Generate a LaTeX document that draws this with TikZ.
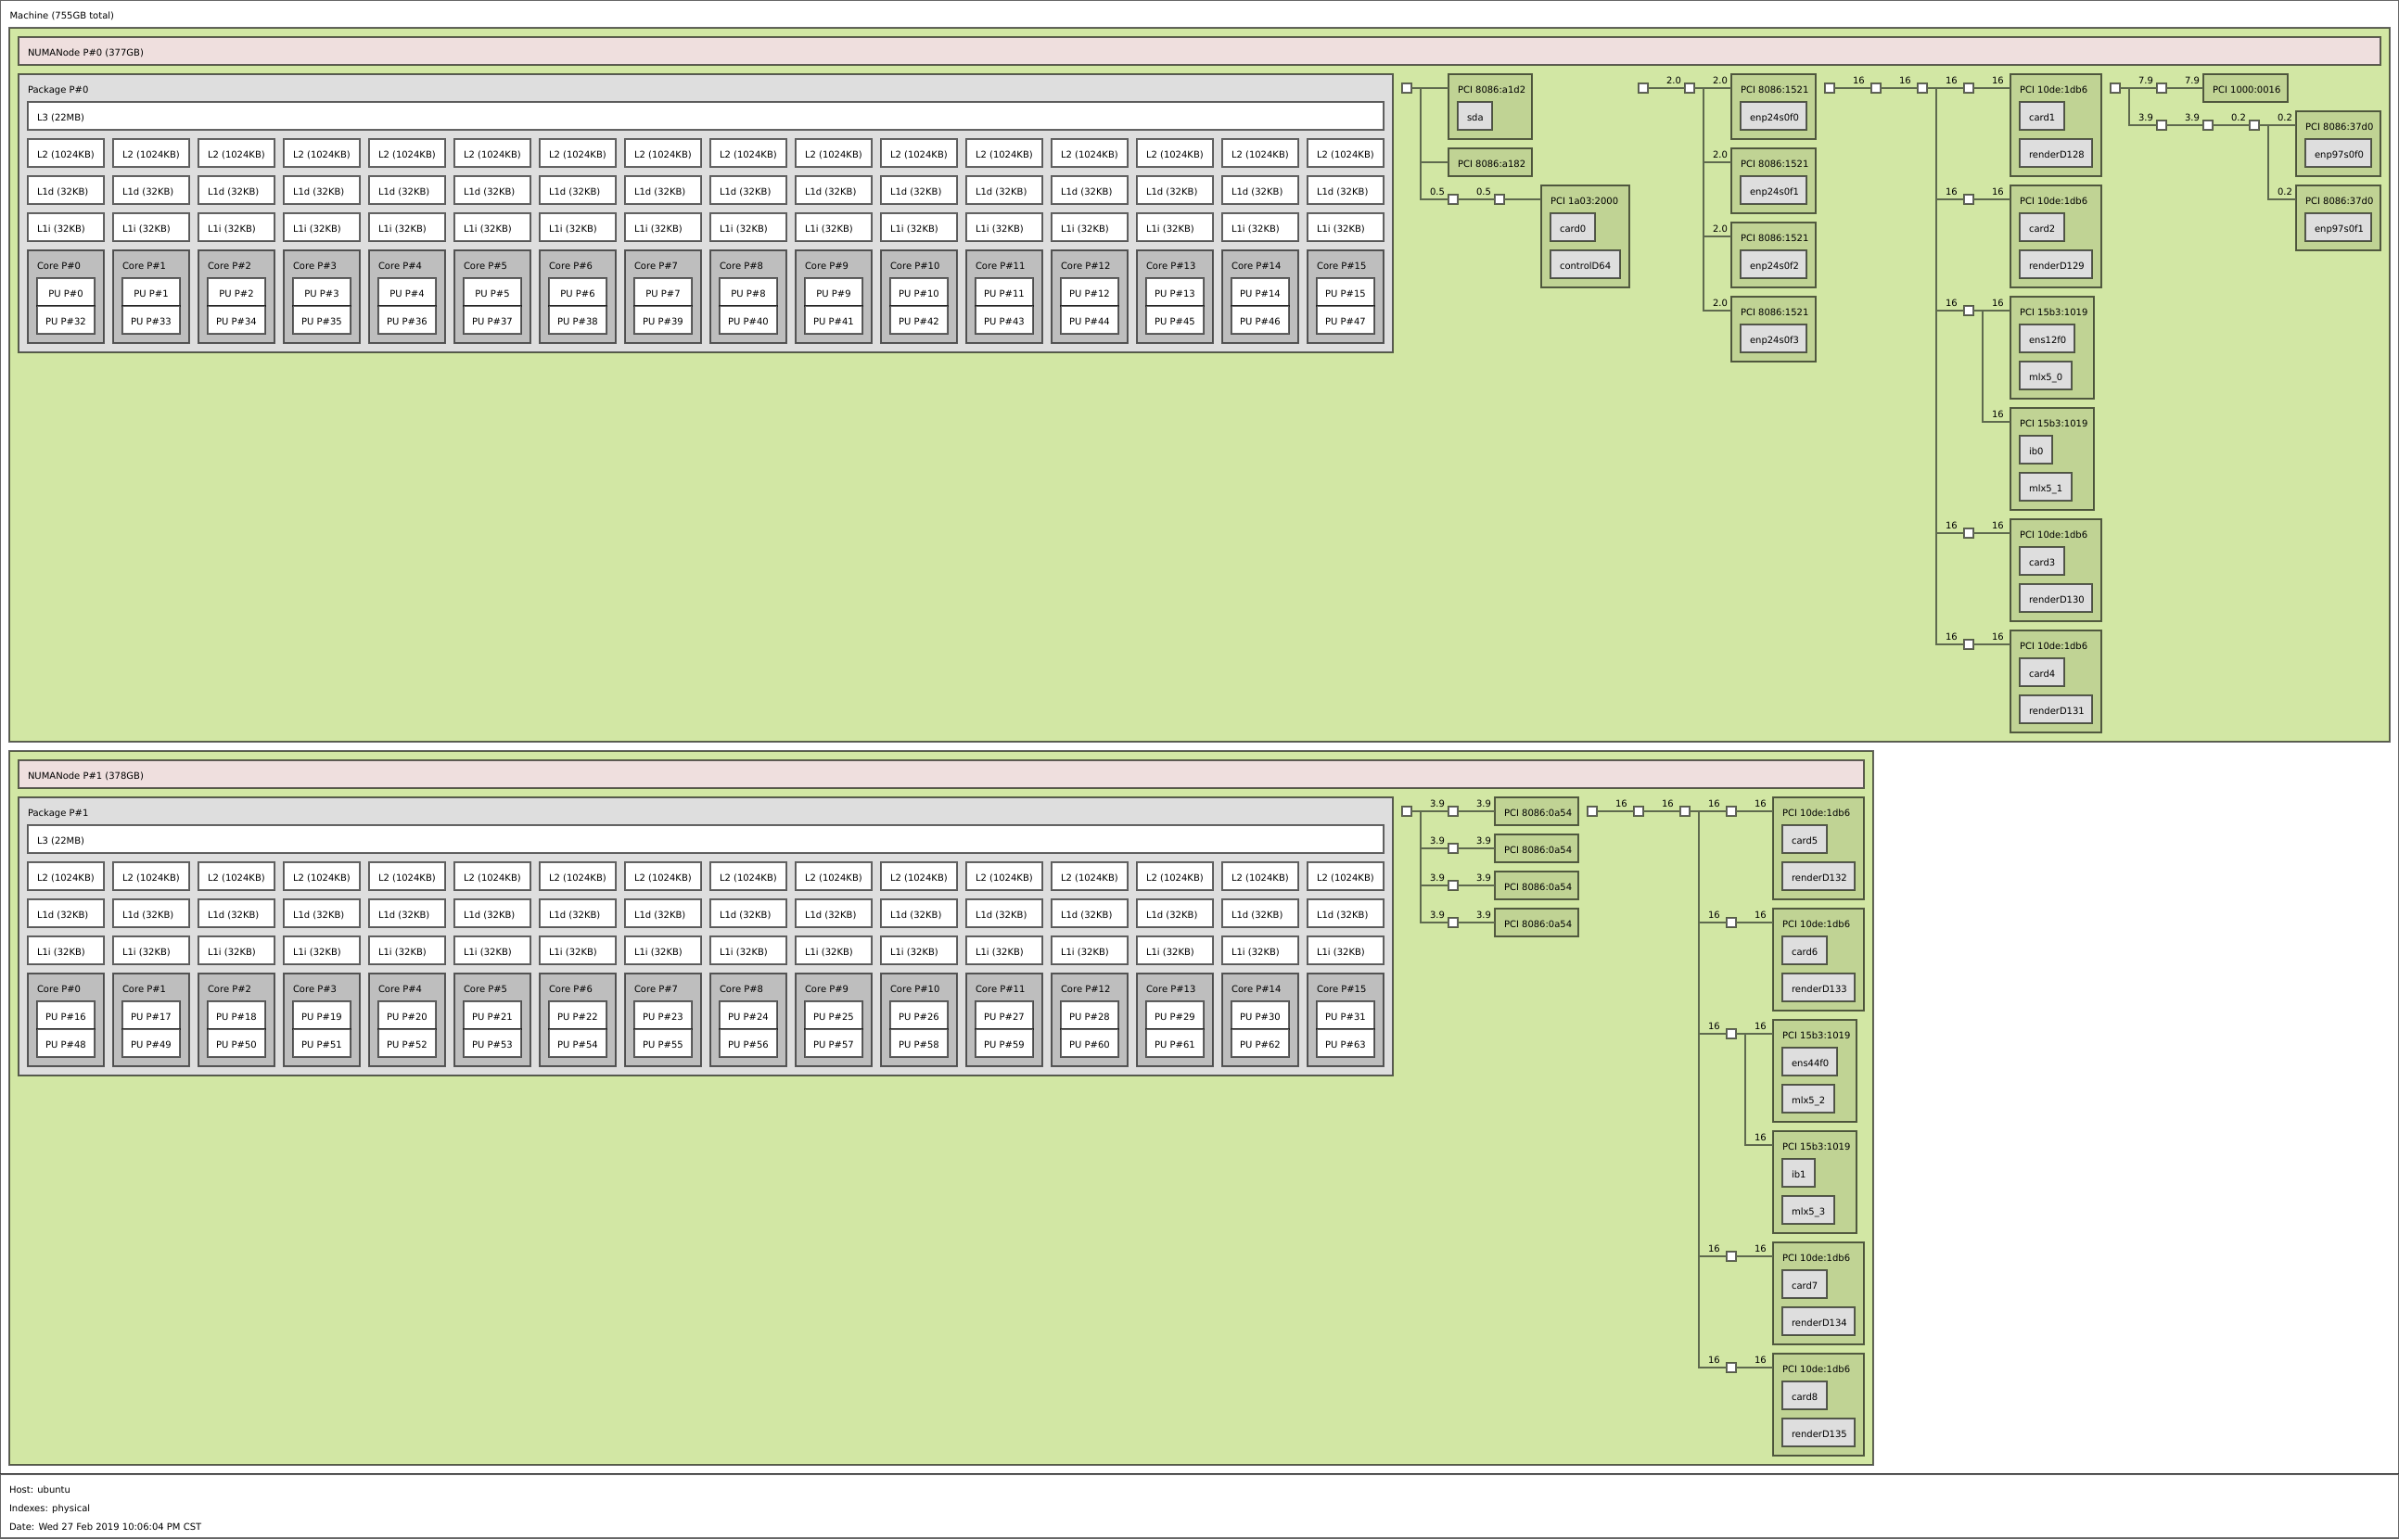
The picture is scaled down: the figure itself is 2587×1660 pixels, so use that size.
\documentclass[tikz,border=0pt]{standalone}
\usepackage{fontspec}
\setmainfont{DejaVu Sans}
\definecolor{cgroup}{HTML}{D2E7A4}
\definecolor{cnuma}{HTML}{EFDFDE}
\definecolor{cpkg}{HTML}{DEDEDE}
\definecolor{ccore}{HTML}{BEBEBE}
\definecolor{cpci}{HTML}{C0D394}
\definecolor{cos}{HTML}{DEDEDE}
\definecolor{clink}{HTML}{5F6A4E}
\tikzset{
 bx/.style={draw=black, draw opacity=0.6, line width=1.1pt, inner sep=0pt, outer sep=0pt, anchor=north west, rectangle},
 machinebox/.style={bx, fill=white},
 groupbox/.style={bx, fill=cgroup},
 numabox/.style={bx, fill=cnuma},
 pkgbox/.style={bx, fill=cpkg},
 cachebox/.style={bx, fill=white},
 corebox/.style={bx, fill=ccore},
 pubox/.style={bx, fill=white},
 pcibox/.style={bx, fill=cpci},
 osbox/.style={bx, fill=cos},
 brsq/.style={bx, fill=white, minimum width=10pt, minimum height=10pt},
 txt/.style={inner sep=0pt, outer sep=0pt, font=\fontsize{10}{12}\selectfont, text=black},
 link/.style={draw=clink, line width=1.1pt},
 spd/.style={txt, anchor=base west},
}
% style, name, x, y, w, h, text
\newcommand\lsbox[7]{\node[#1, minimum width=#5pt, minimum height=#6pt] (#2) at (#3,#4) {};
 \node[txt, anchor=base west] (#2t) at ([xshift=10pt,yshift=-20pt]#2.north west) {#7};}
\newcommand\lscbox[7]{\node[#1, minimum width=#5pt, minimum height=#6pt] (#2) at (#3,#4) {};
 \node[txt, anchor=base] (#2t) at ([yshift=-20pt]#2.north) {#7};}
\newcommand\lssq[3]{\node[brsq] (#1) at (#2,#3) {};}
\newcommand\spdsq[2]{\node[spd] (#1s) at ([xshift=-20pt,yshift=5pt]#1.west) {#2};}
\newcommand\spdbox[2]{\node[spd] (#1s) at ([xshift=-20pt,yshift=-10pt]#1.north west) {#2};}
\begin{document}
\begin{tikzpicture}[x=1pt, y=-1pt]
\useasboundingbox (0,0) rectangle (2587,1660);
% machine and legend
\lsbox{machinebox}{machine}{0.5}{0.5}{2586}{1589}{Machine (755GB total)}
\node[machinebox, minimum width=2586pt, minimum height=69pt] (legend) at (0.5,1590) {};
\node[txt, anchor=base west] (host) at (10,1610) {Host: ubuntu};
\node[txt, anchor=base west] (indexes) at (10,1630) {Indexes: physical};
\node[txt, anchor=base west] (date) at (10,1650) {Date: Wed 27 Feb 2019 10:06:04 PM CST};
% groups
\node[groupbox, minimum width=2567pt, minimum height=770pt] (group0) at (10,30) {};
\lsbox{numabox}{numa0}{20}{40}{2547}{30}{NUMANode P\#0 (377GB)}
\node[groupbox, minimum width=2010pt, minimum height=770pt] (group1) at (10,810) {};
\lsbox{numabox}{numa1}{20}{820}{1990}{30}{NUMANode P\#1 (378GB)}
% packages
\foreach \p in {0,1} {
 \pgfmathtruncatemacro{\Y}{80+780*\p}
 \pgfmathtruncatemacro{\Yc}{\Y+30}
 \lsbox{pkgbox}{pkg\p}{20}{\Y}{1482}{300}{Package P\#\p}
 \lsbox{cachebox}{lthree\p}{30}{\Yc}{1462}{30}{L3 (22MB)}
 \foreach \i in {0,...,15} {
  \pgfmathtruncatemacro{\X}{30+92*\i}
  \pgfmathtruncatemacro{\Xp}{40+92*\i}
  \pgfmathtruncatemacro{\Ya}{\Y+70}
  \pgfmathtruncatemacro{\Yb}{\Y+110}
  \pgfmathtruncatemacro{\Yd}{\Y+150}
  \pgfmathtruncatemacro{\Ye}{\Y+190}
  \pgfmathtruncatemacro{\Yf}{\Y+220}
  \pgfmathtruncatemacro{\Yg}{\Y+250}
  \pgfmathtruncatemacro{\pua}{\i+16*\p}
  \pgfmathtruncatemacro{\pub}{\i+32+16*\p}
  \lsbox{cachebox}{ltwo\p x\i}{\X}{\Ya}{82}{30}{L2 (1024KB)}
  \lsbox{cachebox}{lod\p x\i}{\X}{\Yb}{82}{30}{L1d (32KB)}
  \lsbox{cachebox}{loi\p x\i}{\X}{\Yd}{82}{30}{L1i (32KB)}
  \lsbox{corebox}{core\p x\i}{\X}{\Ye}{82}{100}{Core P\#\i}
  \lscbox{pubox}{pua\p x\i}{\Xp}{\Yf}{62}{30}{PU P\#\pua}
  \lscbox{pubox}{pub\p x\i}{\Xp}{\Yg}{62}{30}{PU P\#\pub}
 }
}
% ---------- Tree A ----------
\lssq{sqA0}{1512}{90}
\lsbox{pcibox}{pA1}{1562}{80}{90}{70}{PCI 8086:a1d2}
\lsbox{osbox}{sda}{1572}{110}{37}{30}{sda}
\lsbox{pcibox}{pA2}{1562}{160}{90}{30}{PCI 8086:a182}
\lssq{sqA1}{1562}{210}
\lssq{sqA2}{1612}{210}
\lsbox{pcibox}{pA3}{1662}{200}{95}{110}{PCI 1a03:2000}
\lsbox{osbox}{cardzero}{1672}{230}{48}{30}{card0}
\lsbox{osbox}{ctrl}{1672}{270}{75}{30}{controlD64}
\coordinate (tA) at (1532,95);
\spdsq{sqA1}{0.5}\spdsq{sqA2}{0.5}
% ---------- Tree B ----------
\lssq{sqB0}{1767}{90}
\lssq{sqB1}{1817}{90}
\coordinate (tB) at (1837,95);
\foreach \k/\yy/\f in {1/80/0,2/160/1,3/240/2,4/320/3} {
 \pgfmathtruncatemacro{\yo}{\yy+30}
 \lsbox{pcibox}{pB\k}{1867}{\yy}{91}{70}{PCI 8086:1521}
 \lsbox{osbox}{enpB\k}{1877}{\yo}{71}{30}{enp24s0f\f}
 \spdbox{pB\k}{2.0}
}
\spdsq{sqB1}{2.0}
% ---------- Tree C ----------
\lssq{sqC0}{1968}{90}
\lssq{sqC1}{2018}{90}
\lssq{sqC2}{2068}{90}
\coordinate (tC) at (2088,95);
\lssq{sqC3}{2118}{90}
\lssq{sqC4}{2118}{210}
\lssq{sqC5}{2118}{330}
\lssq{sqC6}{2118}{570}
\lssq{sqC7}{2118}{690}
\coordinate (tCb) at (2138,335);
\lsbox{pcibox}{pC1}{2168}{80}{98}{110}{PCI 10de:1db6}
\lsbox{osbox}{cardone}{2178}{110}{48}{30}{card1}
\lsbox{osbox}{rdone}{2178}{150}{78}{30}{renderD128}
\lsbox{pcibox}{pC2}{2168}{200}{98}{110}{PCI 10de:1db6}
\lsbox{osbox}{cardtwo}{2178}{230}{48}{30}{card2}
\lsbox{osbox}{rdtwo}{2178}{270}{78}{30}{renderD129}
\lsbox{pcibox}{pC3}{2168}{320}{90}{110}{PCI 15b3:1019}
\lsbox{osbox}{ensa}{2178}{350}{59}{30}{ens12f0}
\lsbox{osbox}{mlxa}{2178}{390}{56}{30}{mlx5\_0}
\lsbox{pcibox}{pC4}{2168}{440}{90}{110}{PCI 15b3:1019}
\lsbox{osbox}{ibzero}{2178}{470}{35}{30}{ib0}
\lsbox{osbox}{mlxb}{2178}{510}{56}{30}{mlx5\_1}
\lsbox{pcibox}{pC5}{2168}{560}{98}{110}{PCI 10de:1db6}
\lsbox{osbox}{cardthree}{2178}{590}{48}{30}{card3}
\lsbox{osbox}{rdthree}{2178}{630}{78}{30}{renderD130}
\lsbox{pcibox}{pC6}{2168}{680}{98}{110}{PCI 10de:1db6}
\lsbox{osbox}{cardfour}{2178}{710}{48}{30}{card4}
\lsbox{osbox}{rdfour}{2178}{750}{78}{30}{renderD131}
\foreach \n in {sqC1,sqC2,sqC3,sqC4,sqC5,sqC6,sqC7} {\spdsq{\n}{16}}
\foreach \n in {pC1,pC2,pC3,pC4,pC5,pC6} {\spdbox{\n}{16}}
% ---------- Tree D ----------
\lssq{sqD0}{2276}{90}
\coordinate (tD) at (2296,95);
\lssq{sqD1}{2326}{90}
\lsbox{pcibox}{pD1}{2376}{80}{91}{30}{PCI 1000:0016}
\lssq{sqD2}{2326}{130}
\lssq{sqD3}{2376}{130}
\lssq{sqD4}{2426}{130}
\coordinate (tDb) at (2446,135);
\lsbox{pcibox}{pD2}{2476}{120}{91}{70}{PCI 8086:37d0}
\lsbox{osbox}{enpDa}{2486}{150}{71}{30}{enp97s0f0}
\lsbox{pcibox}{pD3}{2476}{200}{91}{70}{PCI 8086:37d0}
\lsbox{osbox}{enpDb}{2486}{230}{71}{30}{enp97s0f1}
\spdsq{sqD1}{7.9}\spdbox{pD1}{7.9}
\spdsq{sqD2}{3.9}\spdsq{sqD3}{3.9}\spdsq{sqD4}{0.2}
\spdbox{pD2}{0.2}\spdbox{pD3}{0.2}
% ---------- Tree E ----------
\lssq{sqE0}{1512}{870}
\coordinate (tE) at (1532,875);
\foreach \k/\yy in {1/860,2/900,3/940,4/980} {
 \pgfmathtruncatemacro{\ys}{\yy+10}
 \lssq{sqE\k}{1562}{\ys}
 \lsbox{pcibox}{pE\k}{1612}{\yy}{90}{30}{PCI 8086:0a54}
 \spdsq{sqE\k}{3.9}
 \spdbox{pE\k}{3.9}
}
% ---------- Tree F ----------
\lssq{sqF0}{1712}{870}
\lssq{sqF1}{1762}{870}
\lssq{sqF2}{1812}{870}
\coordinate (tF) at (1832,875);
\lssq{sqF3}{1862}{870}
\lssq{sqF4}{1862}{990}
\lssq{sqF5}{1862}{1110}
\lssq{sqF6}{1862}{1350}
\lssq{sqF7}{1862}{1470}
\coordinate (tFb) at (1882,1115);
\lsbox{pcibox}{pF1}{1912}{860}{98}{110}{PCI 10de:1db6}
\lsbox{osbox}{cardfive}{1922}{890}{48}{30}{card5}
\lsbox{osbox}{rdfive}{1922}{930}{78}{30}{renderD132}
\lsbox{pcibox}{pF2}{1912}{980}{98}{110}{PCI 10de:1db6}
\lsbox{osbox}{cardsix}{1922}{1010}{48}{30}{card6}
\lsbox{osbox}{rdsix}{1922}{1050}{78}{30}{renderD133}
\lsbox{pcibox}{pF3}{1912}{1100}{90}{110}{PCI 15b3:1019}
\lsbox{osbox}{ensb}{1922}{1130}{59}{30}{ens44f0}
\lsbox{osbox}{mlxc}{1922}{1170}{56}{30}{mlx5\_2}
\lsbox{pcibox}{pF4}{1912}{1220}{90}{110}{PCI 15b3:1019}
\lsbox{osbox}{ibone}{1922}{1250}{35}{30}{ib1}
\lsbox{osbox}{mlxd}{1922}{1290}{56}{30}{mlx5\_3}
\lsbox{pcibox}{pF5}{1912}{1340}{98}{110}{PCI 10de:1db6}
\lsbox{osbox}{cardseven}{1922}{1370}{48}{30}{card7}
\lsbox{osbox}{rdseven}{1922}{1410}{78}{30}{renderD134}
\lsbox{pcibox}{pF6}{1912}{1460}{98}{110}{PCI 10de:1db6}
\lsbox{osbox}{cardeight}{1922}{1490}{48}{30}{card8}
\lsbox{osbox}{rdeight}{1922}{1530}{78}{30}{renderD135}
\foreach \n in {sqF1,sqF2,sqF3,sqF4,sqF5,sqF6,sqF7} {\spdsq{\n}{16}}
\foreach \n in {pF1,pF2,pF3,pF4,pF5,pF6} {\spdbox{\n}{16}}
% ---------- connectors ----------
% A
\draw[link] (sqA0.east) -- ([yshift=-15pt]pA1.north west);
\draw[link] (tA) |- ([yshift=-15pt]pA2.north west);
\draw[link] (tA) |- (sqA1.west);
\draw[link] (sqA1.east) -- (sqA2.west);
\draw[link] (sqA2.east) -- ([yshift=-15pt]pA3.north west);
% B
\draw[link] (sqB0.east) -- (sqB1.west);
\draw[link] (sqB1.east) -- ([yshift=-15pt]pB1.north west);
\foreach \k in {2,3,4} {\draw[link] (tB) |- ([yshift=-15pt]pB\k.north west);}
% C
\draw[link] (sqC0.east) -- (sqC1.west);
\draw[link] (sqC1.east) -- (sqC2.west);
\draw[link] (sqC2.east) -- (sqC3.west);
\foreach \k in {4,5,6,7} {\draw[link] (tC) |- (sqC\k.west);}
\draw[link] (sqC3.east) -- ([yshift=-15pt]pC1.north west);
\draw[link] (sqC4.east) -- ([yshift=-15pt]pC2.north west);
\draw[link] (sqC5.east) -- ([yshift=-15pt]pC3.north west);
\draw[link] (tCb) |- ([yshift=-15pt]pC4.north west);
\draw[link] (sqC6.east) -- ([yshift=-15pt]pC5.north west);
\draw[link] (sqC7.east) -- ([yshift=-15pt]pC6.north west);
% D
\draw[link] (sqD0.east) -- (sqD1.west);
\draw[link] (sqD1.east) -- ([yshift=-15pt]pD1.north west);
\draw[link] (tD) |- (sqD2.west);
\draw[link] (sqD2.east) -- (sqD3.west);
\draw[link] (sqD3.east) -- (sqD4.west);
\draw[link] (sqD4.east) -- ([yshift=-15pt]pD2.north west);
\draw[link] (tDb) |- ([yshift=-15pt]pD3.north west);
% E
\draw[link] (sqE0.east) -- (sqE1.west);
\foreach \k in {2,3,4} {\draw[link] (tE) |- (sqE\k.west);}
\foreach \k in {1,2,3,4} {\draw[link] (sqE\k.east) -- ([yshift=-15pt]pE\k.north west);}
% F
\draw[link] (sqF0.east) -- (sqF1.west);
\draw[link] (sqF1.east) -- (sqF2.west);
\draw[link] (sqF2.east) -- (sqF3.west);
\foreach \k in {4,5,6,7} {\draw[link] (tF) |- (sqF\k.west);}
\draw[link] (sqF3.east) -- ([yshift=-15pt]pF1.north west);
\draw[link] (sqF4.east) -- ([yshift=-15pt]pF2.north west);
\draw[link] (sqF5.east) -- ([yshift=-15pt]pF3.north west);
\draw[link] (tFb) |- ([yshift=-15pt]pF4.north west);
\draw[link] (sqF6.east) -- ([yshift=-15pt]pF5.north west);
\draw[link] (sqF7.east) -- ([yshift=-15pt]pF6.north west);
\end{tikzpicture}
\end{document}
